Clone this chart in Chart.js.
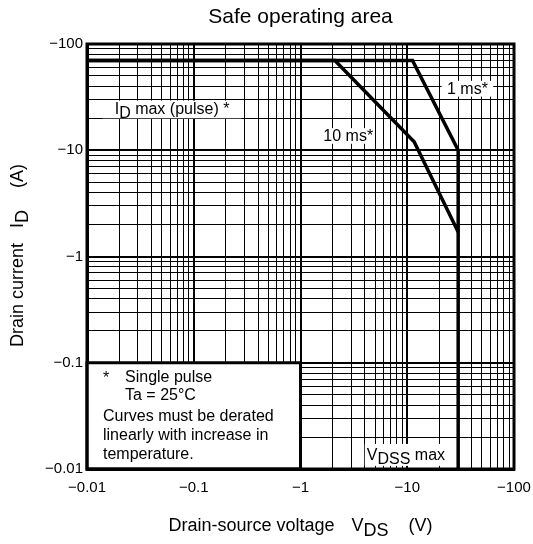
<!DOCTYPE html>
<html>
<head>
<meta charset="utf-8">
<script src="https://cdn.jsdelivr.net/npm/chart.js@4.4.0/dist/chart.umd.min.js"></script>
<style>
  body { margin: 0; background: #fff; }
  canvas { display: block; }
</style>
</head>
<body>
<canvas id="soaChart" width="533" height="544"></canvas>
<script>
// values are magnitudes, the axes read negative (-V, -A)
const vds10ms = [0.01, 2.1, 11.6, 30];
const id10ms = [70, 70, 12, 1.7];
const vds1ms = [0.01, 11.2, 30, 30];
const id1ms = [70, 70, 10, 0.01];

const decades = [0.01, 0.1, 1, 10, 100];
const tickLabels = ['\u22120.01', '\u22120.1', '\u22121', '\u221210', '\u2212100'];

const FONT = "'Liberation Sans', Arial, Helvetica, sans-serif";

// 1..9 lines in every decade
const gridValues = [];
decades.slice(0, -1).forEach(d => {
  for (let m = 1; m <= 9; m++) gridValues.push(Number((m * d).toPrecision(3)));
});
gridValues.push(100);

function toPoints(xs, ys) {
  return xs.map((x, i) => ({ x: x, y: ys[i] }));
}

// text pieces: [text, isSubscript, extra gap after]
const notes = [
  { parts: [['I', 0], ['D', 1], [' max (pulse) *', 0]], x: [0.014, 0.28], y: [20, 30] },
  { parts: [['10 ms*', 0]], x: [1.6, 4.9], y: [11.5, 16.5] },
  { parts: [['1 ms*', 0]], x: [21, 64], y: [32, 46] },
  { parts: [['V', 0], ['DSS', 1], [' max', 0]], x: [4, 23.6], y: [0.0107, 0.0176] }
];

function drawParts(ctx, parts, x, y, size, subShift) {
  ctx.font = size + 'px ' + FONT;
  let total = 0;
  parts.forEach(p => { total += ctx.measureText(p[0]).width + (p[2] || 0); });
  let cx = x - total / 2;
  ctx.textAlign = 'left';
  ctx.textBaseline = 'middle';
  parts.forEach(p => {
    ctx.fillText(p[0], cx, p[1] ? y + subShift : y);
    cx += ctx.measureText(p[0]).width + (p[2] || 0);
  });
}

const soaPlugin = {
  id: 'soaExtras',
  beforeDatasetsDraw(chart) {
    const ctx = chart.ctx;
    const xs = chart.scales.x, ys = chart.scales.y;
    ctx.save();
    notes.forEach(n => {
      const l = xs.getPixelForValue(n.x[0]), r = xs.getPixelForValue(n.x[1]);
      const t = ys.getPixelForValue(n.y[1]), b = ys.getPixelForValue(n.y[0]);
      ctx.fillStyle = '#fff';
      ctx.fillRect(l, t + 1, r - l, b - t - 1);
      ctx.fillStyle = '#000';
      drawParts(ctx, n.parts, (l + r) / 2, (t + b) / 2 + 1, 16, 4);
    });

    // note box in the lower left corner
    const bl = xs.getPixelForValue(0.01), br = xs.getPixelForValue(1);
    const bt = ys.getPixelForValue(0.1), bb = ys.getPixelForValue(0.01);
    ctx.fillStyle = '#fff';
    ctx.fillRect(bl, bt, br - bl, bb - bt);
    ctx.strokeStyle = '#000';
    ctx.lineWidth = 3;
    ctx.strokeRect(bl, bt, br - bl, bb - bt);
    ctx.fillStyle = '#000';
    ctx.font = '16px ' + FONT;
    ctx.textAlign = 'left';
    ctx.textBaseline = 'middle';
    ctx.fillText('*', bl + 16, bt + 16);
    ctx.fillText('Single pulse', bl + 38, bt + 15);
    ctx.fillText('Ta = 25\u00b0C', bl + 38, bt + 33);
    ctx.fillText('Curves must be derated', bl + 16, bt + 54);
    ctx.fillText('linearly with increase in', bl + 16, bt + 73);
    ctx.fillText('temperature.', bl + 16, bt + 92);
    ctx.restore();
  },
  afterDraw(chart) {
    const ctx = chart.ctx;
    const a = chart.chartArea;
    ctx.save();
    ctx.strokeStyle = '#000';
    ctx.lineWidth = 3;
    ctx.strokeRect(a.left, a.top, a.right - a.left, a.bottom - a.top);

    ctx.fillStyle = '#000';
    ctx.font = '21px ' + FONT;
    ctx.textAlign = 'center';
    ctx.textBaseline = 'middle';
    ctx.fillText('Safe operating area', (a.left + a.right) / 2, 17);

    drawParts(ctx, [['Drain-source voltage', 0, 17], ['V', 0], ['DS', 1, 20], ['(V)', 0]],
      (a.left + a.right) / 2, 526, 18, 5);

    ctx.translate(18, (a.top + a.bottom) / 2 - 1);
    ctx.rotate(-Math.PI / 2);
    drawParts(ctx, [['Drain current', 0, 15], ['I', 0], ['D', 1, 22], ['(A)', 0]], 0, 0, 18, 5);
    ctx.restore();
  }
};

Chart.defaults.color = '#000';
Chart.defaults.font.family = FONT;

function gridWidth(c) {
  return c.tick && decades.includes(c.tick.value) ? 2 : 1;
}

const ctx = document.getElementById('soaChart').getContext('2d');
const chart = new Chart(ctx, {
  type: 'line',
  data: {
    datasets: [
      {
        label: '10 ms',
        data: toPoints(vds10ms, id10ms),
        borderColor: '#000',
        borderWidth: 3.5,
        pointRadius: 0,
        fill: false,
        tension: 0
      },
      {
        label: '1 ms',
        data: toPoints(vds1ms, id1ms),
        borderColor: '#000',
        borderWidth: 3.5,
        pointRadius: 0,
        fill: false,
        tension: 0
      }
    ]
  },
  options: {
    responsive: false,
    animation: false,
    layout: { padding: { top: 44, right: 19, left: 0, bottom: 0 } },
    plugins: {
      legend: { display: false },
      tooltip: { enabled: false }
    },
    scales: {
      x: {
        type: 'logarithmic',
        min: 0.01,
        max: 100,
        afterBuildTicks: s => { s.ticks = gridValues.map(v => ({ value: v })); },
        afterFit: s => { s.height = 75; s.paddingLeft = 0; s.paddingRight = 0; },
        grid: { color: '#000', lineWidth: gridWidth, drawTicks: false },
        border: { display: true, color: '#000', width: 3 },
        ticks: {
          autoSkip: false,
          maxRotation: 0,
          padding: 10,
          font: { size: 15 },
          callback: v => { const i = decades.indexOf(v); return i >= 0 ? tickLabels[i] : ''; }
        }
      },
      y: {
        type: 'logarithmic',
        min: 0.01,
        max: 100,
        afterBuildTicks: s => { s.ticks = gridValues.map(v => ({ value: v })); },
        afterFit: s => { s.width = 87; s.paddingTop = 0; s.paddingBottom = 0; },
        grid: { color: '#000', lineWidth: gridWidth, drawTicks: false },
        border: { display: true, color: '#000', width: 3 },
        ticks: {
          autoSkip: false,
          padding: 4,
          font: { size: 15 },
          callback: v => { const i = decades.indexOf(v); return i >= 0 ? tickLabels[i] : ''; }
        }
      }
    }
  },
  plugins: [soaPlugin]
});
</script>
</body>
</html>
